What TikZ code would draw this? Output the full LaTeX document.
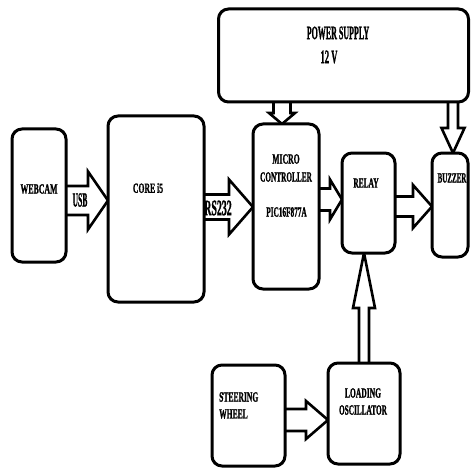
\documentclass[tikz,border=0pt]{standalone}
\usepackage{fontspec}
\setmainfont{Liberation Serif}[BoldFeatures={FakeBold=1.6}]
\usetikzlibrary{calc,backgrounds}
\tikzset{
  box/.style={draw, line width=3pt, rounded corners=10pt, inner sep=0pt, outer sep=0pt, fill=white},
  lbl/.style={inner sep=0pt, font=\bfseries\fontsize{14}{16}\selectfont},
  barrow/.style={draw, line width=2.6pt, fill=white, line join=miter},
}
\newcommand\sq[2]{\scalebox{#1}[1]{#2}}
% right-pointing block arrow: start, end, shaft half, head half, head length
\newcommand\rarrow[5]{\draw[barrow] let \p1=(#1), \p2=(#2) in
  (\x1,\y1+#3) -- (\x2-#5,\y1+#3) -- (\x2-#5,\y1+#4) -- (\x2,\y1) -- (\x2-#5,\y1-#4) -- (\x2-#5,\y1-#3) -- (\x1,\y1-#3);}
% down-pointing block arrow
\newcommand\darrow[5]{\draw[barrow] let \p1=(#1), \p2=(#2) in
  (\x1-#3,\y1) -- (\x1-#3,\y2+#5) -- (\x1-#4,\y2+#5) -- (\x1,\y2) -- (\x1+#4,\y2+#5) -- (\x1+#3,\y2+#5) -- (\x1+#3,\y1);}
% up-pointing block arrow
\newcommand\uarrow[5]{\draw[barrow] let \p1=(#1), \p2=(#2) in
  (\x1-#3,\y1) -- (\x1-#3,\y2-#5) -- (\x1-#4,\y2-#5) -- (\x1,\y2) -- (\x1+#4,\y2-#5) -- (\x1+#3,\y2-#5) -- (\x1+#3,\y1);}
\begin{document}
\begin{tikzpicture}[x=1pt,y=-1pt]
\useasboundingbox (0,0) rectangle (471,468);
% blocks
\node[box, minimum width=54pt, minimum height=133pt] (web) at (39,195.5) {};
\node[box, minimum width=96pt, minimum height=186pt] (core) at (156,209) {};
\node[box, minimum width=66pt, minimum height=165pt] (micro) at (286,206.5) {};
\node[box, minimum width=53pt, minimum height=100pt] (relay) at (368.5,203) {};
\node[box, minimum width=36pt, minimum height=104pt] (buzz) at (450,205) {};
\node[box, minimum width=250pt, minimum height=93pt] (power) at (343.5,55.5) {};
\node[box, minimum width=73pt, minimum height=101pt] (steer) at (248.5,415.5) {};
\node[box, minimum width=72pt, minimum height=101pt] (load) at (364,413.5) {};
% arrow axes
\coordinate (yusb) at (0,200.5);
\coordinate (yrs) at (0,207);
\coordinate (ymr) at (0,199.5);
\coordinate (yrb) at (0,206.5);
\coordinate (ysl) at (0,420);
\coordinate (xpm) at (282,0);
\coordinate (xpb) at (453,0);
\coordinate (xlr) at (364,0);
\begin{scope}[on background layer]
\rarrow{web.east |- yusb}{core.west |- yusb}{14.5pt}{29pt}{20pt}
\rarrow{core.east |- yrs}{micro.west |- yrs}{12.5pt}{27.5pt}{24pt}
\rarrow{micro.east |- ymr}{relay.west |- ymr}{11pt}{20pt}{12pt}
\rarrow{relay.east |- yrb}{buzz.west |- yrb}{10pt}{21.5pt}{19pt}
\rarrow{steer.east |- ysl}{load.west |- ysl}{11pt}{19pt}{22pt}
\darrow{power.south -| xpm}{micro.north -| xpm}{8.5pt}{13pt}{11pt}
\darrow{power.south -| xpb}{buzz.north -| xpb}{5pt}{11.5pt}{25pt}
\uarrow{load.north -| xlr}{relay.south -| xlr}{5pt}{11pt}{55pt}
\end{scope}
% labels
\node[lbl] (webt) at (39,189) {\sq{0.56}{WEBCAM}};
\node[lbl] (coret) at (148,188) {\sq{0.55}{CORE i5}};
\node[lbl] (mic1) at (286,159) {\sq{0.55}{MICRO}};
\node[lbl] (mic2) at (286,177) {\sq{0.52}{CONTROLLER}};
\node[lbl] (mic3) at (286.5,212) {\sq{0.52}{PIC16F877A}};
\node[lbl] (relt) at (366,183) {\sq{0.53}{RELAY}};
\node[lbl] (buzt) at (452,178) {\sq{0.5}{BUZZER}};
\node[lbl, font=\bfseries\fontsize{19}{20}\selectfont] (pst1) at (338,33) {\sq{0.42}{POWER SUPPLY}};
\node[lbl, font=\bfseries\fontsize{19}{20}\selectfont] (pst2) at (329,57) {\sq{0.45}{12 V}};
\node[lbl, anchor=west] (st1) at (219,397) {\sq{0.54}{STEERING}};
\node[lbl, anchor=west] (st2) at (219,414) {\sq{0.54}{WHEEL}};
\node[lbl] (lo1) at (363,393) {\sq{0.54}{LOADING}};
\node[lbl] (lo2) at (363,410) {\sq{0.52}{OSCILLATOR}};
\node[lbl, font=\bfseries\fontsize{20}{20}\selectfont] (usbt) at (80,200) {\sq{0.38}{USB}};
\node[lbl, font=\bfseries\fontsize{22}{22}\selectfont] (rst) at (218,208) {\sq{0.45}{RS232}};
\end{tikzpicture}
\end{document}
